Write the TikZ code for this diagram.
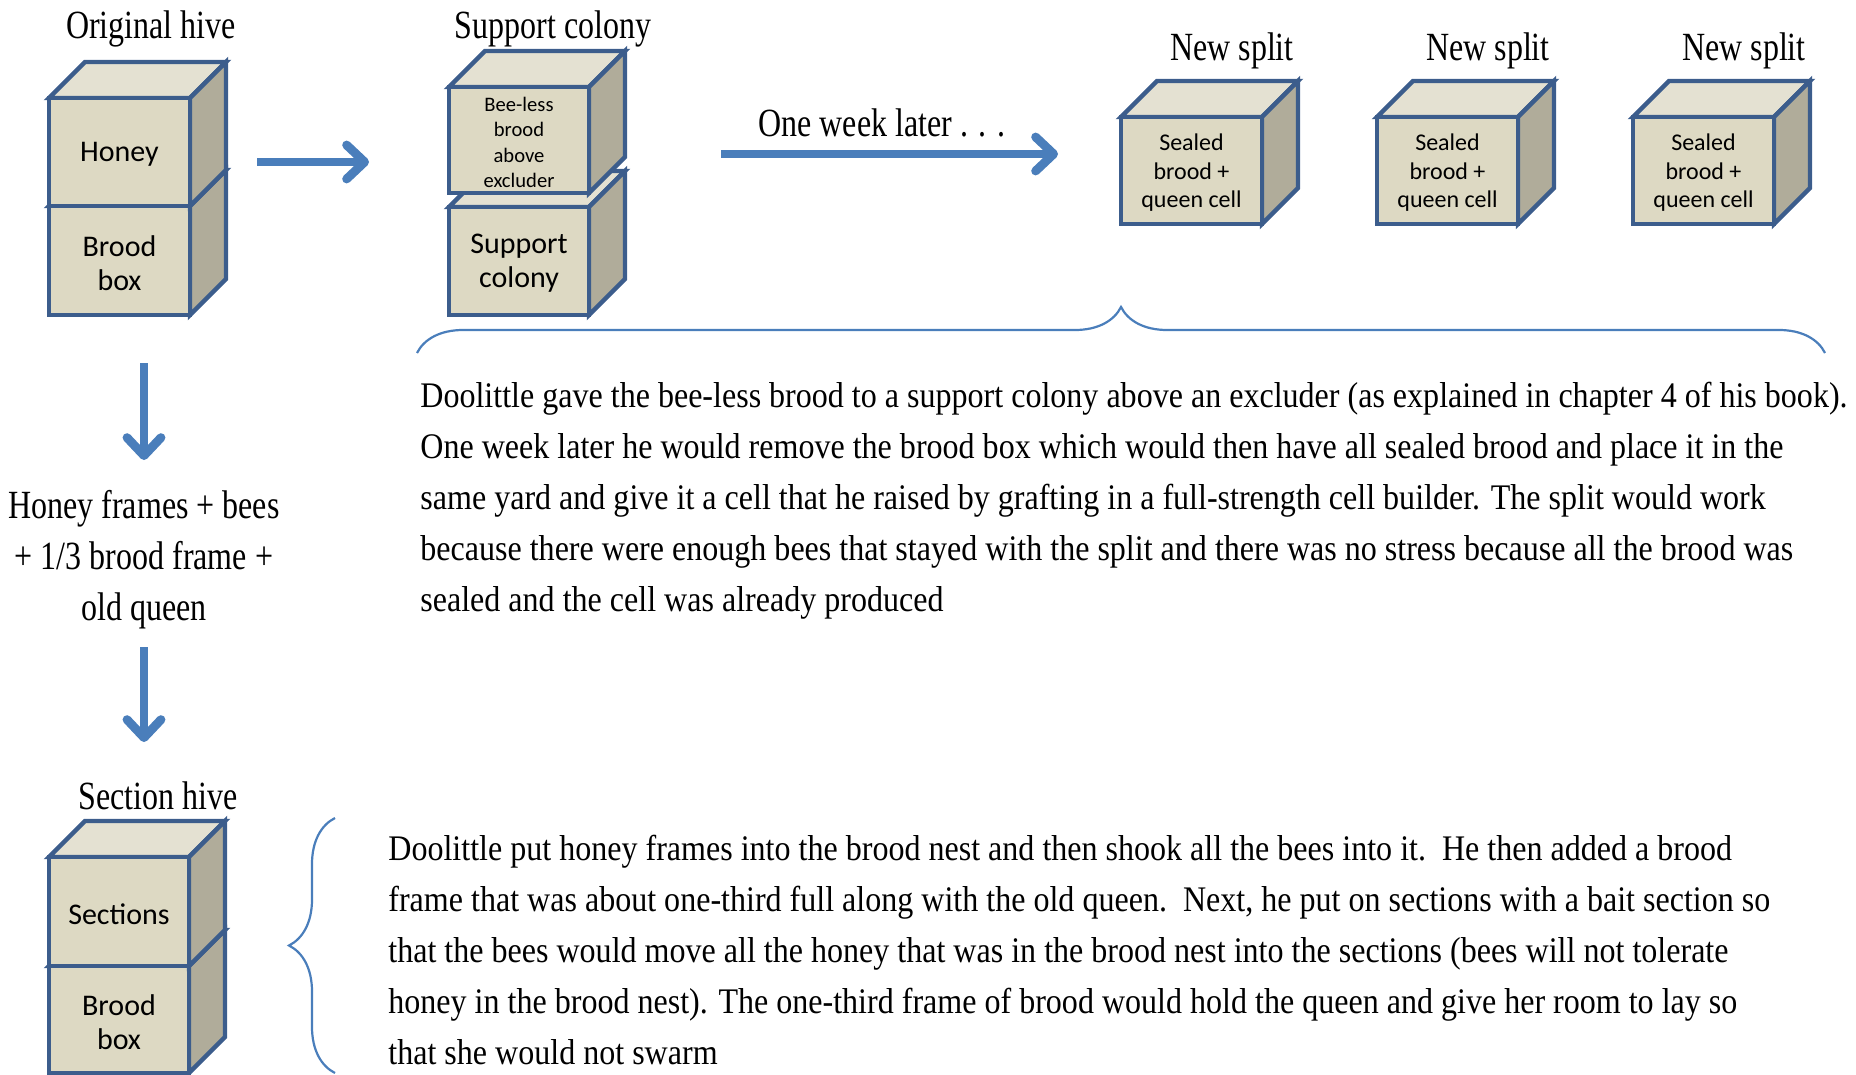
\documentclass[tikz,border=0pt]{standalone}
\usepackage{fontspec}
\usetikzlibrary{arrows.meta,decorations.pathreplacing}
\newfontfamily\hivefont{Carlito}
\newfontfamily\titlefont[FakeStretch=0.8]{Liberation Serif}
\newfontfamily\notefont[FakeStretch=0.89]{Liberation Serif}
\definecolor{hiveblue}{RGB}{60,93,140}
\definecolor{frontface}{RGB}{221,217,195}
\definecolor{topface}{RGB}{228,225,210}
\definecolor{sideface}{RGB}{176,172,154}
\definecolor{flowblue}{RGB}{74,126,187}
\tikzset{
	hiveline/.style={draw=hiveblue,line width=2.2pt},
	flow/.style={flowblue,line width=4.4pt,-{Straight Barb[length=9pt,width=17pt,round]}},
	curly/.style={flowblue,line width=1.1pt,decorate,decoration={brace,amplitude=23pt}},
	title/.style={font=\titlefont\fontsize{20}{24}\selectfont},
	note/.style={font=\notefont\fontsize{18}{25.5}\selectfont,align=left,inner sep=0pt},
	bigtext/.style={font=\hivefont\fontsize{15}{17}\selectfont,align=center},
	midtext/.style={font=\hivefont\fontsize{12}{14.2}\selectfont,align=center},
	smalltext/.style={font=\hivefont\fontsize{10.3}{12.8}\selectfont,align=center}
}
% #1 name, #2 left, #3 top of front face, #4 width, #5 height, #6 text style, #7 text
\newcommand{\hivebox}[7]{
	\draw[hiveline,fill=topface] (#2,#3) -- ++(36,-36) -- ++(#4,0) -- ++(-36,36) -- cycle;
	\draw[hiveline,fill=sideface] (#2+#4,#3) -- ++(36,-36) -- ++(0,#5) -- ++(-36,36) -- cycle;
	\draw[hiveline,fill=frontface] (#2,#3) rectangle ++(#4,#5);
	\node[#6] (#1) at (#2+#4/2,#3+#5/2+2.5) {#7};
}

\begin{document}
\begin{tikzpicture}[x=0.5pt,y=-0.5pt]
	\useasboundingbox (0,0) rectangle (1856,1075);
	% titles
	\node[title] (orig-title) at (151,29) {Original hive};
	\node[title] (supp-title) at (553,29) {Support colony};
	\node[title] (split1-title) at (1232,51) {New split};
	\node[title] (split2-title) at (1488,51) {New split};
	\node[title] (split3-title) at (1744,51) {New split};
	\node[title] (sect-title) at (158,796) {Section hive};
	\node[title] (later) at (882,123) {One week later . . .};
	% hives
	\hivebox{brood1}{49}{206}{141}{109}{bigtext}{Brood\\box}
	\hivebox{honey}{49}{98}{141}{108}{bigtext}{Honey}
	\hivebox{support}{449}{207}{140}{108}{bigtext}{Support\\colony}
	\hivebox{beeless}{449}{87}{140}{106}{smalltext}{Bee-less\\brood\\above\\excluder}
	\hivebox{split1}{1121}{117}{141}{107}{midtext}{Sealed\\brood +\\queen cell}
	\hivebox{split2}{1377}{117}{141}{107}{midtext}{Sealed\\brood +\\queen cell}
	\hivebox{split3}{1633}{117}{141}{107}{midtext}{Sealed\\brood +\\queen cell}
	\hivebox{brood2}{49}{966}{140}{107}{bigtext}{Brood\\box}
	\hivebox{sections}{49}{857}{140}{109}{bigtext}{Sections}
	% middle step
	\node[title,align=center,font=\titlefont\fontsize{20}{25.5}\selectfont] (recipe) at (144,560)
		{Honey frames + bees\\+ 1/3 brood frame +\\old queen};
	% arrows
	\coordinate (move-a) at (257,162);
	\coordinate (move-b) at (369,162);
	\coordinate (week-a) at (721,154);
	\coordinate (week-b) at (1058,154);
	\coordinate (down1-a) at (144,363);
	\coordinate (down1-b) at (144,460);
	\coordinate (down2-a) at (144,647);
	\coordinate (down2-b) at (144,742);
	\draw[flow] (move-a) -- (move-b);
	\draw[flow] (week-a) -- (week-b);
	\draw[flow] (down1-a) -- (down1-b);
	\draw[flow] (down2-a) -- (down2-b);
	% braces
	\draw[curly] (417,353) -- (1825,353);
	\draw[curly] (335,1073) -- (335,818);
	% notes
	\node[note,anchor=west] (note1) at (420,501) {Doolittle gave the bee-less brood to a support colony above an excluder (as explained in chapter 4 of his book).\\
		One week later he would remove the brood box which would then have all sealed brood and place it in the\\
		same yard and give it a cell that he raised by grafting in a full-strength cell builder. The split would work\\
		because there were enough bees that stayed with the split and there was no stress because all the brood was\\
		sealed and the cell was already produced};
	\node[note,anchor=west] (note2) at (388,950) {Doolittle put honey frames into the brood nest and then shook all the bees into it.\ \ He then added a brood\\
		frame that was about one-third full along with the old queen.\ \ Next, he put on sections with a bait section so\\
		that the bees would move all the honey that was in the brood nest into the sections (bees will not tolerate\\
		honey in the brood nest). The one-third frame of brood would hold the queen and give her room to lay so\\
		that she would not swarm};
\end{tikzpicture}
\end{document}
